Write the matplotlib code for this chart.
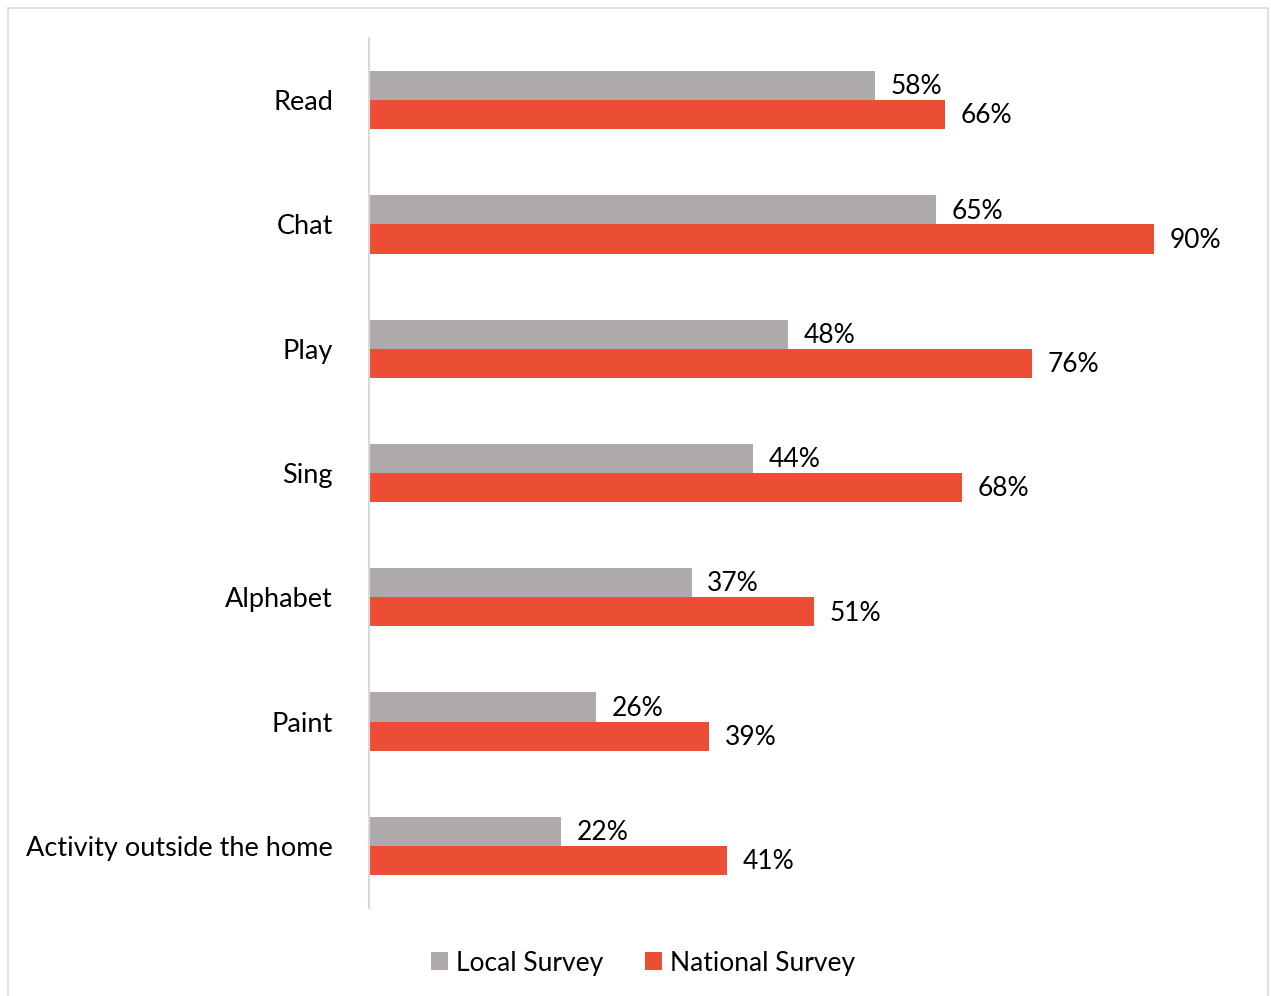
import matplotlib
matplotlib.use("Agg")
import matplotlib.pyplot as plt
import numpy as np
from matplotlib.patches import Rectangle

categories = ["Read", "Chat", "Play", "Sing", "Alphabet", "Paint",
              "Activity outside the home"]
local = [58, 65, 48, 44, 37, 26, 22]
national = [66, 90, 76, 68, 51, 39, 41]

GREY = "#AEAAAA"
RED = "#EC4D35"

plt.rcParams["font.family"] = ["Lato", "DejaVu Sans"]

W, H = 1271, 996
fig = plt.figure(figsize=(W / 100, H / 100), dpi=100)

# light chart-area border (runs off the bottom of the picture)
fig.patches.append(Rectangle((8 / W, -0.01), (1268 - 8) / W, (H - 8) / H + 0.01,
                             transform=fig.transFigure, fill=False,
                             edgecolor="#D9D9D9", linewidth=1.2))

ax = fig.add_axes([369 / W, (H - 908) / H, (1241 - 369) / W, (908 - 38) / H])
y = np.arange(len(categories))
h = 0.235
ax.barh(y - h / 2, local, h, color=GREY, label="Local Survey")
ax.barh(y + h / 2, national, h, color=RED, label="National Survey")

for yi, lv, nv in zip(y, local, national):
    ax.text(lv + 1.8, yi - h / 2 + 0.01, f"{lv}%", va="center", ha="left", fontsize=19)
    ax.text(nv + 1.8, yi + h / 2 + 0.01, f"{nv}%", va="center", ha="left", fontsize=19)

ax.set_xlim(0, 100)
ax.set_ylim(len(categories) - 0.5, -0.5)
ax.set_yticks(y)
ax.set_yticklabels(categories, fontsize=19.5)
ax.tick_params(axis="y", length=0, pad=26)
ax.set_xticks([])
for s in ["top", "right", "bottom"]:
    ax.spines[s].set_visible(False)
ax.spines["left"].set_color("#D9D9D9")
ax.spines["left"].set_linewidth(1.5)

fig.legend(loc="center", bbox_to_anchor=(643 / W, (H - 963) / H), ncol=2,
           frameon=False, fontsize=19, handlelength=0.65, handleheight=0.65,
           handletextpad=0.3, columnspacing=1.6)

fig.savefig("out.png", dpi=100)
